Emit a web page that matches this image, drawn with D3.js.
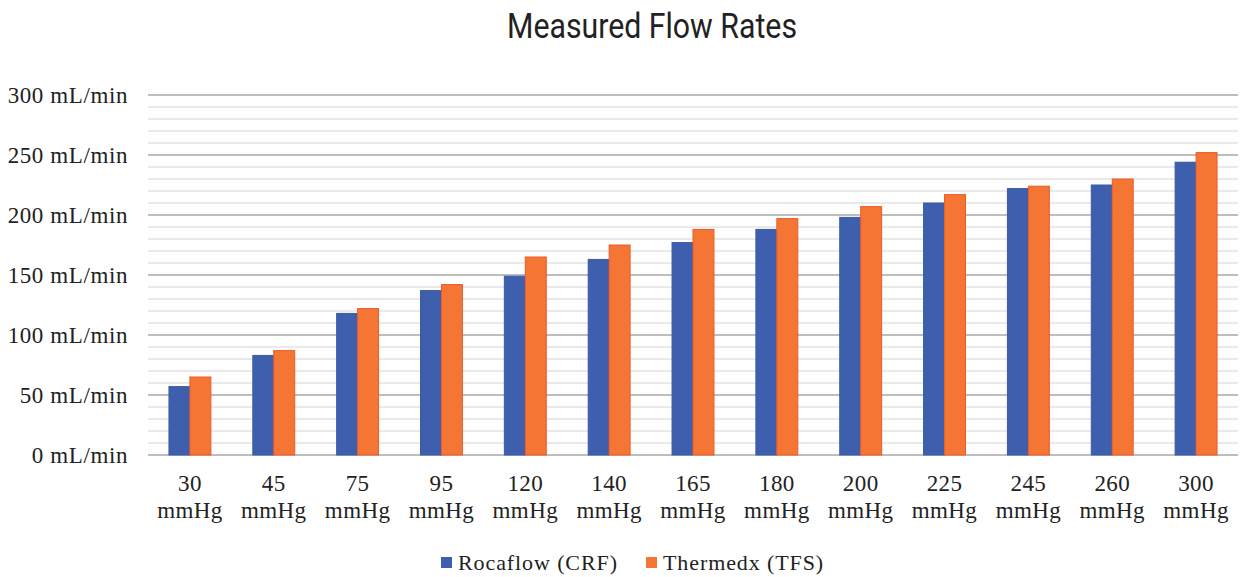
<!DOCTYPE html>
<html><head><meta charset="utf-8">
<script src="https://cdn.jsdelivr.net/npm/d3@7"></script>
<style>body{margin:0;background:#fff;} svg{display:block;}</style>
</head><body>
<div id="chart"></div>
<script>
const categories = ["30","45","75","95","120","140","165","180","200","225","245","260","300"];
const rocaflow = [57,83,118,137,149,163,177,188,198,210,222,225,244];
const thermedx = [65,87,122,142,165,175,188,197,207,217,224,230,252];
const seriesNames = ["Rocaflow (CRF)","Thermedx (TFS)"];
const yTicks = [0,50,100,150,200,250,300];

const W=1244,H=577;
const m={l:148,r:6,t:95,b:122};
const svg=d3.select("#chart").append("svg").attr("width",W).attr("height",H);
const x=d3.scaleBand().domain(categories).range([m.l,W-m.r]).paddingInner(0.5).paddingOuter(0.25);
const x1=d3.scaleBand().domain(seriesNames).range([0,x.bandwidth()]);
const y=d3.scaleLinear().domain([0,300]).range([H-m.b,m.t]);
const colors=["#3D5FAD","#F47534"];
const strokes=["#3A5AA6","#EC5A2A"];

const minor=d3.range(0,301,10).filter(v=>v%50!==0);
svg.append("g").selectAll("line").data(minor).join("line")
  .attr("x1",m.l).attr("x2",W-m.r).attr("y1",d=>y(d)).attr("y2",d=>y(d))
  .attr("stroke","#e3e3e3").attr("stroke-width",1.3);
svg.append("g").selectAll("line").data(yTicks).join("line")
  .attr("x1",m.l).attr("x2",W-m.r).attr("y1",d=>y(d)).attr("y2",d=>y(d))
  .attr("stroke","#a9a9a9").attr("stroke-width",1.5);

svg.append("g").selectAll("text").data(yTicks).join("text")
  .attr("x",128).attr("y",d=>y(d)).attr("dy","0.35em").attr("text-anchor","end")
  .attr("font-family","Liberation Serif").attr("font-size",23).attr("letter-spacing",0.6).attr("fill","#222")
  .text(d=>d+" mL/min");

const data=categories.map((c,i)=>({c,vals:[rocaflow[i],thermedx[i]]}));
const g=svg.append("g");
data.forEach(d=>{
  d.vals.forEach((v,j)=>{
    g.append("rect").attr("x",x(d.c)+x1(seriesNames[j])).attr("width",x1.bandwidth())
     .attr("y",y(v)).attr("height",y(0)-y(v)).attr("fill",colors[j])
     .attr("stroke",strokes[j]).attr("stroke-width",1);
  });
});

const xl=svg.append("g").selectAll("text").data(categories).join("text")
  .attr("text-anchor","middle").attr("font-family","Liberation Serif").attr("font-size",23).attr("letter-spacing",0.4).attr("fill","#222");
xl.append("tspan").attr("x",d=>x(d)+x.bandwidth()/2).attr("y",491).text(d=>d);
xl.append("tspan").attr("x",d=>x(d)+x.bandwidth()/2).attr("y",518).text("mmHg");

svg.append("text").attr("x",652).attr("y",38).attr("text-anchor","middle")
  .attr("font-family","'Liberation Sans Narrow','Arial Narrow','Roboto',sans-serif").attr("font-size",35)
  .attr("fill","#222").attr("textLength",290).attr("lengthAdjust","spacingAndGlyphs")
  .text("Measured Flow Rates");

const lx=[441,646];
seriesNames.forEach((s,j)=>{
  svg.append("rect").attr("x",lx[j]).attr("y",557).attr("width",11).attr("height",11).attr("fill",colors[j]);
  svg.append("text").attr("x",lx[j]+17).attr("y",570).attr("font-family","Liberation Serif")
   .attr("font-size",22).attr("letter-spacing",0.9).attr("fill","#222").text(s);
});
</script>
</body></html>
